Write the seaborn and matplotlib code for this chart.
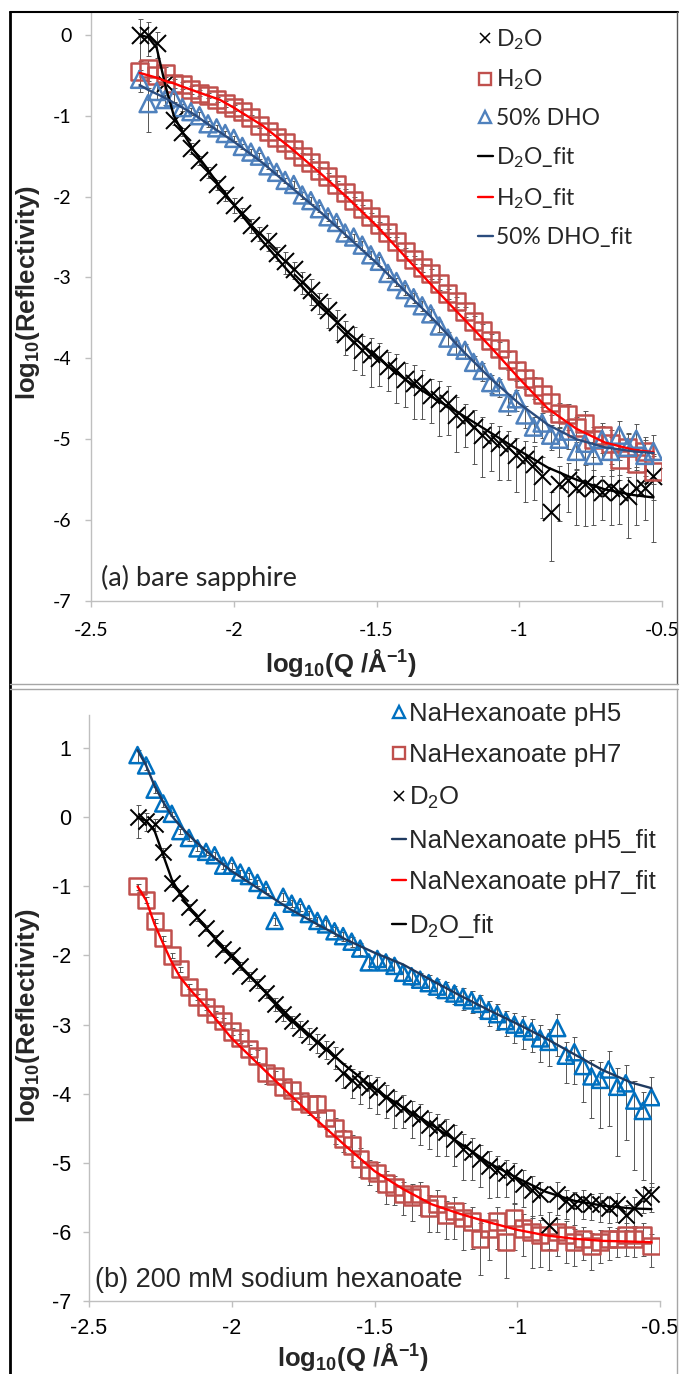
import numpy as np
import pandas as pd
import seaborn as sns
import matplotlib.pyplot as plt
from matplotlib.lines import Line2D

# style
sns.set_style('white')
plt.rcParams['font.family'] = ['Liberation Sans', 'DejaVu Sans']
plt.rcParams['mathtext.default'] = 'regular'
plt.rcParams['axes.unicode_minus'] = False

# ---- data: log10(Q) grid shared by the measured curves ----
q = [-2.33, -2.30, -2.27, -2.24, -2.21, -2.18, -2.15, -2.12, -2.09, -2.06,
     -2.03, -2.00, -1.97, -1.94, -1.91, -1.88, -1.85, -1.82, -1.79, -1.76,
     -1.73, -1.70, -1.67, -1.64, -1.61, -1.58, -1.55, -1.52, -1.49, -1.46,
     -1.43, -1.40, -1.37, -1.34, -1.31, -1.28, -1.25, -1.22, -1.19, -1.16,
     -1.13, -1.10, -1.07, -1.04, -1.01, -0.98, -0.95, -0.92, -0.89, -0.86,
     -0.83, -0.80, -0.77, -0.74, -0.71, -0.68, -0.65, -0.62, -0.59, -0.56,
     -0.53]

# (a) bare sapphire
d2o_a = [0.0, 0.0, -0.1, -0.6, -1.05, -1.2, -1.4, -1.55, -1.7, -1.85,
         -1.98, -2.1, -2.2, -2.35, -2.45, -2.55, -2.7, -2.8, -2.9, -3.05,
         -3.15, -3.3, -3.4, -3.55, -3.7, -3.8, -3.9, -3.95, -4.0, -4.1,
         -4.15, -4.25, -4.3, -4.35, -4.45, -4.5, -4.55, -4.7, -4.75, -4.85,
         -4.95, -5.0, -5.05, -5.1, -5.2, -5.25, -5.3, -5.45, -5.9, -5.55,
         -5.5, -5.6, -5.55, -5.6, -5.65, -5.6, -5.65, -5.7, -5.6, -5.6,
         -5.45]
h2o_a = [-0.45, -0.42, -0.5, -0.48, -0.6, -0.62, -0.68, -0.72, -0.75, -0.8,
         -0.85, -0.9, -0.95, -1.02, -1.12, -1.2, -1.27, -1.33, -1.42, -1.5,
         -1.58, -1.68, -1.75, -1.85, -1.95, -2.05, -2.15, -2.25, -2.35, -2.45,
         -2.55, -2.68, -2.78, -2.88, -2.95, -3.08, -3.2, -3.3, -3.42, -3.55,
         -3.65, -3.78, -3.88, -4.02, -4.15, -4.25, -4.35, -4.45, -4.55, -4.68,
         -4.7, -4.85, -4.8, -5.0, -4.95, -5.05, -5.25, -5.1, -5.3, -5.15,
         -5.4]
dho_a = [-0.55, -0.85, -0.7, -0.8, -0.78, -0.9, -0.95, -1.0, -1.1, -1.15,
         -1.22, -1.28, -1.38, -1.45, -1.5, -1.62, -1.7, -1.8, -1.85, -1.98,
         -2.05, -2.15, -2.25, -2.32, -2.45, -2.5, -2.6, -2.72, -2.8, -2.95,
         -3.05, -3.15, -3.25, -3.35, -3.45, -3.6, -3.75, -3.85, -3.9, -4.05,
         -4.15, -4.3, -4.35, -4.55, -4.5, -4.7, -4.85, -4.8, -4.95, -5.0,
         -4.9, -5.15, -5.05, -5.2, -5.0, -5.15, -4.95, -5.1, -5.0, -5.2,
         -5.15]

# relative errors dR/R
d2o_a_err = [0.55, 0.45, 0.35, 0.2, 0.15, 0.12, 0.15, 0.12, 0.15, 0.15,
             0.15, 0.2, 0.15, 0.2, 0.2, 0.25, 0.2, 0.3, 0.25, 0.3,
             0.35, 0.3, 0.4, 0.4, 0.45, 0.55, 0.5, 0.6, 0.55, 0.5,
             0.6, 0.55, 0.65, 0.6, 0.55, 0.65, 0.6, 0.65, 0.55, 0.65,
             0.7, 0.6, 0.65, 0.6, 0.65, 0.7, 0.65, 0.7, 0.75, 0.65,
             0.6, 0.65, 0.7, 0.65, 0.55, 0.65, 0.6, 0.7, 0.65, 0.6,
             0.85]
h2o_a_err = [0.35, 0.3, 0.25, 0.2, 0.12, 0.1, 0.1, 0.08, 0.08, 0.08,
             0.08, 0.08, 0.08, 0.08, 0.08, 0.08, 0.08, 0.08, 0.08, 0.08,
             0.1, 0.1, 0.1, 0.1, 0.1, 0.1, 0.1, 0.1, 0.1, 0.12,
             0.12, 0.12, 0.12, 0.12, 0.15, 0.15, 0.15, 0.15, 0.15, 0.2,
             0.2, 0.2, 0.2, 0.25, 0.25, 0.25, 0.3, 0.3, 0.3, 0.35,
             0.35, 0.35, 0.4, 0.4, 0.4, 0.45, 0.45, 0.45, 0.5, 0.5,
             0.55]
dho_a_err = [0.3, 0.55, 0.2, 0.15, 0.12, 0.1, 0.1, 0.1, 0.08, 0.08,
             0.08, 0.08, 0.08, 0.08, 0.08, 0.08, 0.08, 0.08, 0.1, 0.1,
             0.1, 0.1, 0.1, 0.1, 0.1, 0.1, 0.12, 0.12, 0.12, 0.12,
             0.12, 0.15, 0.15, 0.15, 0.15, 0.15, 0.2, 0.2, 0.2, 0.2,
             0.25, 0.25, 0.25, 0.3, 0.3, 0.3, 0.35, 0.35, 0.35, 0.4,
             0.4, 0.4, 0.45, 0.45, 0.45, 0.5, 0.5, 0.5, 0.55, 0.55,
             0.6]

# fitted curves
q_fit = [-2.33, -2.30, -2.27, -2.24, -2.21, -2.18, -2.14, -2.10, -2.05, -2.00,
         -1.90, -1.80, -1.70, -1.60, -1.50, -1.40, -1.30, -1.20, -1.10, -1.00,
         -0.90, -0.80, -0.70, -0.60, -0.53]
d2o_a_fit = [0.0, -0.03, -0.16, -0.62, -1.0, -1.2, -1.43, -1.62, -1.87, -2.1,
             -2.55, -2.96, -3.35, -3.68, -3.98, -4.26, -4.49, -4.7, -4.92, -5.14,
             -5.35, -5.5, -5.62, -5.69, -5.72]
h2o_a_fit = [-0.47, -0.5, -0.53, -0.57, -0.6, -0.64, -0.69, -0.74, -0.8, -0.9,
             -1.12, -1.4, -1.7, -2.02, -2.36, -2.74, -3.12, -3.49, -3.86, -4.25,
             -4.62, -4.87, -5.04, -5.13, -5.16]
dho_a_fit = [-0.62, -0.68, -0.73, -0.78, -0.84, -0.9, -0.98, -1.08, -1.2, -1.32,
             -1.58, -1.88, -2.18, -2.5, -2.82, -3.17, -3.52, -3.9, -4.25, -4.56,
             -4.82, -5.0, -5.1, -5.15, -5.17]

# (b) 200 mM sodium hexanoate
ph5_b = [0.9, 0.75, 0.4, 0.2, 0.05, -0.2, -0.3, -0.45, -0.5, -0.55,
         -0.7, -0.7, -0.8, -0.85, -0.95, -1.05, -1.5, -1.15, -1.25, -1.3,
         -1.4, -1.5, -1.55, -1.65, -1.72, -1.8, -1.9, -2.1, -2.05, -2.1,
         -2.15, -2.25, -2.3, -2.35, -2.4, -2.45, -2.5, -2.55, -2.6, -2.65,
         -2.7, -2.8, -2.85, -2.95, -3.0, -3.05, -3.1, -3.2, -3.25, -3.05,
         -3.45, -3.4, -3.6, -3.75, -3.8, -3.65, -3.9, -3.85, -4.1, -4.25,
         -4.05]
ph7_b = [-1.0, -1.2, -1.5, -1.75, -2.0, -2.2, -2.45, -2.6, -2.75, -2.85,
         -2.95, -3.1, -3.2, -3.35, -3.45, -3.7, -3.75, -3.9, -3.95, -4.1,
         -4.15, -4.15, -4.35, -4.5, -4.65, -4.75, -4.95, -5.1, -5.15, -5.3,
         -5.35, -5.45, -5.5, -5.45, -5.65, -5.6, -5.75, -5.7, -5.8, -5.85,
         -6.1, -5.95, -5.85, -6.15, -5.8, -5.95, -6.0, -6.05, -6.15, -6.0,
         -6.05, -6.15, -6.1, -6.2, -6.15, -6.1, -6.1, -6.05, -6.1, -6.05,
         -6.2]
d2o_b = [0.0, -0.05, -0.1, -0.5, -0.95, -1.1, -1.3, -1.45, -1.6, -1.75,
         -1.9, -2.0, -2.15, -2.3, -2.4, -2.55, -2.7, -2.85, -2.95, -3.05,
         -3.15, -3.25, -3.35, -3.45, -3.7, -3.8, -3.85, -3.9, -3.95, -4.05,
         -4.15, -4.2, -4.3, -4.35, -4.45, -4.5, -4.55, -4.65, -4.8, -4.85,
         -4.95, -5.05, -5.1, -5.15, -5.2, -5.3, -5.4, -5.45, -5.9, -5.45,
         -5.55, -5.6, -5.55, -5.6, -5.6, -5.65, -5.6, -5.75, -5.65, -5.5,
         -5.45]

ph5_b_err = [0.2, 0.15, 0.1, 0.1, 0.08, 0.08, 0.08, 0.08, 0.1, 0.1,
             0.1, 0.1, 0.1, 0.1, 0.1, 0.1, 0.12, 0.12, 0.12, 0.12,
             0.12, 0.15, 0.15, 0.15, 0.15, 0.15, 0.2, 0.2, 0.2, 0.2,
             0.2, 0.25, 0.25, 0.25, 0.3, 0.3, 0.3, 0.3, 0.35, 0.35,
             0.35, 0.4, 0.4, 0.4, 0.45, 0.5, 0.5, 0.55, 0.55, 0.6,
             0.6, 0.65, 0.7, 0.75, 0.8, 0.85, 0.9, 0.85, 0.9, 0.9,
             0.95]
ph7_b_err = [0.1, 0.1, 0.08, 0.08, 0.08, 0.08, 0.08, 0.1, 0.1, 0.1,
             0.12, 0.12, 0.15, 0.15, 0.2, 0.3, 0.2, 0.25, 0.3, 0.25,
             0.3, 0.35, 0.3, 0.4, 0.35, 0.4, 0.45, 0.4, 0.45, 0.5,
             0.45, 0.5, 0.55, 0.5, 0.55, 0.6, 0.55, 0.6, 0.65, 0.6,
             0.7, 0.65, 0.6, 0.7, 0.65, 0.6, 0.7, 0.65, 0.6, 0.55,
             0.6, 0.55, 0.5, 0.55, 0.5, 0.5, 0.45, 0.5, 0.45, 0.5,
             0.5]
d2o_b_err = [0.5, 0.3, 0.2, 0.15, 0.12, 0.1, 0.1, 0.1, 0.1, 0.1,
             0.12, 0.12, 0.12, 0.15, 0.15, 0.15, 0.2, 0.2, 0.2, 0.25,
             0.25, 0.3, 0.3, 0.35, 0.4, 0.45, 0.5, 0.5, 0.55, 0.5,
             0.55, 0.5, 0.55, 0.6, 0.55, 0.6, 0.55, 0.6, 0.65, 0.6,
             0.6, 0.65, 0.6, 0.55, 0.6, 0.55, 0.6, 0.5, 0.55, 0.5,
             0.45, 0.5, 0.45, 0.4, 0.45, 0.4, 0.45, 0.4, 0.45, 0.4,
             0.45]

ph5_b_fit = [0.97, 0.75, 0.45, 0.22, 0.02, -0.13, -0.3, -0.45, -0.62, -0.78,
             -1.05, -1.32, -1.55, -1.77, -1.96, -2.13, -2.36, -2.58, -2.79, -2.99,
             -3.2, -3.43, -3.66, -3.84, -3.92]
ph7_b_fit = [-1.0, -1.2, -1.55, -1.83, -2.1, -2.32, -2.52, -2.7, -2.95, -3.2,
             -3.6, -4.0, -4.39, -4.76, -5.12, -5.38, -5.6, -5.74, -5.86, -5.97,
             -6.05, -6.1, -6.13, -6.14, -6.15]
d2o_b_fit = [0.0, -0.05, -0.2, -0.55, -0.9, -1.12, -1.35, -1.55, -1.8, -2.02,
             -2.45, -2.88, -3.25, -3.6, -3.93, -4.2, -4.45, -4.72, -5.0, -5.22,
             -5.42, -5.55, -5.62, -5.66, -5.67]

x_ticks = [-2.5, -2, -1.5, -1, -0.5]
x_tick_labels = ['-2.5', '-2', '-1.5', '-1', '-0.5']

# colours
RED_PT = '#C0504D'
BLUE_A = '#4F81BD'
BLUE_B = '#0070C0'
RED_FIT = '#FF0000'
NAVY_A = '#2B4C7E'
NAVY_B = '#1F3A60'
ERR = '#555555'

W, H = 681, 1374


def fx(px):
    return px / W


def fy(py):
    return 1 - py / H


def log_err(rel):
    # dR/R -> asymmetric bars in log10 space
    rel = np.array(rel)
    return [-np.log10(1 - rel), np.log10(1 + rel)]


def draw_points(ax, y, err, marker, color, size=150, lw=1.8):
    ax.errorbar(q, y, yerr=log_err(err), fmt='none', ecolor=ERR,
                elinewidth=0.7, capsize=1.8, capthick=0.7, zorder=1)
    df = pd.DataFrame({'q': q, 'y': y})
    if marker == 'x':
        sns.scatterplot(data=df, x='q', y='y', marker='x', color=color,
                        s=size, linewidth=lw * 0.8, ax=ax, zorder=2)
    else:
        sns.scatterplot(data=df, x='q', y='y', marker=marker, s=size,
                        facecolor='none', edgecolor=color, linewidth=lw,
                        ax=ax, zorder=2)


def draw_fit(ax, y, color):
    df = pd.DataFrame({'q': q_fit, 'y': y})
    sns.lineplot(data=df, x='q', y='y', color=color, linewidth=1.7,
                 sort=False, estimator=None, ax=ax, zorder=3)


def style_axis(ax, ylim, family, size, xpad, ypad):
    ax.set_xlim(-2.5, -0.5)
    ax.set_ylim(*ylim)
    ax.set_xticks(x_ticks)
    ax.set_xticklabels(x_tick_labels)
    top = int(np.floor(ylim[1]))
    ax.set_yticks(list(range(-7, top + 1)))
    ax.set_yticklabels([str(v) for v in range(-7, top + 1)])
    ax.set_xlabel('')
    ax.set_ylabel('')
    sns.despine(ax=ax)
    for s in ('left', 'bottom'):
        ax.spines[s].set_color('#BFBFBF')
        ax.spines[s].set_linewidth(1)
    ax.tick_params(axis='both', direction='out', length=4, width=1,
                   color='#BFBFBF', labelcolor='black', left=True, bottom=True)
    ax.tick_params(axis='x', pad=xpad)
    ax.tick_params(axis='y', pad=ypad)
    for lab in ax.get_xticklabels() + ax.get_yticklabels():
        lab.set_fontfamily(family)
        lab.set_fontsize(size)


fig = plt.figure(figsize=(W / 100, H / 100), dpi=100)
fig.patch.set_facecolor('white')

# ---- panel (a) ----
ax_a = fig.add_axes([fx(91), fy(601), 571 / W, 588 / H])
draw_points(ax_a, d2o_a, d2o_a_err, 'x', 'black')
draw_points(ax_a, h2o_a, h2o_a_err, 's', RED_PT)
draw_points(ax_a, dho_a, dho_a_err, '^', BLUE_A)
draw_fit(ax_a, d2o_a_fit, 'black')
draw_fit(ax_a, h2o_a_fit, RED_FIT)
draw_fit(ax_a, dho_a_fit, NAVY_A)
style_axis(ax_a, (-7, 0.27), ['Lato', 'DejaVu Sans'], 14, 11, 10)

# ---- panel (b) ----
ax_b = fig.add_axes([fx(89), fy(1301), 571 / W, 586 / H])
draw_points(ax_b, ph5_b, ph5_b_err, '^', BLUE_B, size=135)
draw_points(ax_b, ph7_b, ph7_b_err, 's', RED_PT, size=135)
draw_points(ax_b, d2o_b, d2o_b_err, 'x', 'black', size=135)
draw_fit(ax_b, ph5_b_fit, NAVY_B)
draw_fit(ax_b, ph7_b_fit, RED_FIT)
draw_fit(ax_b, d2o_b_fit, 'black')
style_axis(ax_b, (-7, 1.48), ['Liberation Sans', 'DejaVu Sans'], 15.5, 8, 9)

# axis titles
lab_kw = dict(fontsize=18.5, fontweight='bold', family=['Liberation Sans', 'DejaVu Sans'],
              ha='center', va='center')
fig.text(fx(28), fy(293), 'log$_{10}$(Reflectivity)', rotation=90, **lab_kw)
fig.text(fx(341), fy(663), 'log$_{10}$(Q /Å$^{-1}$)', **lab_kw)
fig.text(fx(28), fy(1016), 'log$_{10}$(Reflectivity)', rotation=90, **lab_kw)
fig.text(fx(353), fy(1357), 'log$_{10}$(Q /Å$^{-1}$)', **lab_kw)

# panel captions
fig.text(fx(101), fy(578), '(a) bare sapphire', ha='left', va='center',
         fontsize=19.5, family=['Lato', 'DejaVu Sans'])
fig.text(fx(95), fy(1280), '(b) 200 mM sodium hexanoate', ha='left', va='center',
         fontsize=19.5, family=['Liberation Sans', 'DejaVu Sans'])

# legends
handles_a = [
    Line2D([], [], ls='none', marker='x', color='black', ms=7, mew=1.1),
    Line2D([], [], ls='none', marker='s', mfc='none', mec=RED_PT, ms=8, mew=1.7),
    Line2D([], [], ls='none', marker='^', mfc='none', mec=BLUE_A, ms=8, mew=1.7),
    Line2D([], [], color='black', lw=1.7),
    Line2D([], [], color=RED_FIT, lw=1.7),
    Line2D([], [], color=NAVY_A, lw=1.7),
]
labels_a = ['D$_2$O', 'H$_2$O', '50% DHO', 'D$_2$O_fit', 'H$_2$O_fit', '50% DHO_fit']
fig.legend(handles_a, labels_a, loc='upper left', bbox_to_anchor=(fx(478), fy(27)),
           frameon=False, prop={'family': ['Lato', 'DejaVu Sans'], 'size': 16.5},
           handlelength=0.65, handletextpad=0.15, labelspacing=0.7,
           borderpad=0, borderaxespad=0)

handles_b = [
    Line2D([], [], ls='none', marker='^', mfc='none', mec=BLUE_B, ms=8, mew=1.7),
    Line2D([], [], ls='none', marker='s', mfc='none', mec=RED_PT, ms=8, mew=1.7),
    Line2D([], [], ls='none', marker='x', color='black', ms=7, mew=1.1),
    Line2D([], [], color=NAVY_B, lw=1.7),
    Line2D([], [], color=RED_FIT, lw=1.7),
    Line2D([], [], color='black', lw=1.7),
]
labels_b = ['NaHexanoate pH5', 'NaHexanoate pH7', 'D$_2$O',
            'NaNexanoate pH5_fit', 'NaNexanoate pH7_fit', 'D$_2$O_fit']
fig.legend(handles_b, labels_b, loc='upper left', bbox_to_anchor=(fx(392), fy(702)),
           frameon=False, prop={'family': ['Liberation Sans', 'DejaVu Sans'], 'size': 18.5},
           handlelength=0.55, handletextpad=0.1, labelspacing=0.68,
           borderpad=0, borderaxespad=0)

# panel frames
def fig_line(x0, y0, x1, y1, color, lw):
    fig.add_artist(Line2D([fx(x0), fx(x1)], [fy(y0), fy(y1)], color=color, lw=lw))

fig_line(10, 12, 678, 12, 'black', 1.5)
fig_line(10, 12, 10, 1374, 'black', 2)
fig_line(677, 12, 677, 684, '#595959', 1)
fig_line(10, 684, 678, 684, '#A6A6A6', 1)
fig_line(10, 689, 678, 689, '#A6A6A6', 1)
fig_line(677, 689, 677, 1374, '#A6A6A6', 1)

fig.savefig('out.png', dpi=100)
